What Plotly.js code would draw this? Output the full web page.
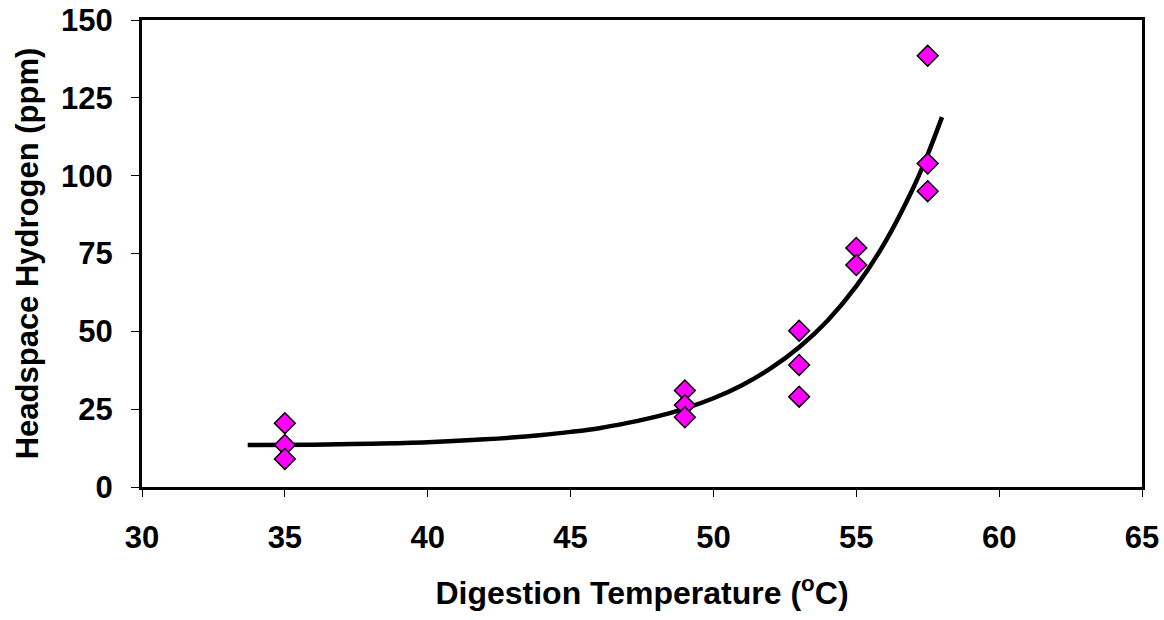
<!DOCTYPE html>
<html>
<head>
<meta charset="utf-8">
<script src="https://cdn.plot.ly/plotly-3.0.1.min.js"></script>
<style>html,body{margin:0;padding:0;background:#fff;}#chart{width:1164px;height:620px;}</style>
</head>
<body>
<div id="chart"></div>
<script>
// Measured data points
const tempX = [35, 35, 35, 49, 49, 49, 53, 53, 53, 55, 55, 57.5, 57.5, 57.5];
const hydrogenY = [20.5, 13.5, 9.0, 31.0, 26.3, 22.4, 50.2, 39.2, 29.0, 76.8, 71.3, 138.5, 103.9, 95.0];

// Trend curve
const curveX = [33.7, 36, 38, 40, 42, 44, 45, 46, 47, 48, 49, 50, 51, 52, 53, 54, 55, 56, 57, 57.5, 58];
const curveY = [13.5, 13.6, 13.9, 14.4, 15.3, 16.7, 17.7, 18.9, 20.6, 22.6, 25.2, 28.5, 32.7, 38.1, 44.9, 53.5, 64.5, 78.5, 96.2, 106.8, 118.8];

const xTicks = [30, 35, 40, 45, 50, 55, 60, 65];
const yTicks = [0, 25, 50, 75, 100, 125, 150];

const font = 'Liberation Sans, Arial, sans-serif';

const traces = [
  {
    x: curveX, y: curveY, mode: 'lines', type: 'scatter',
    line: {color: '#000', width: 4.5, shape: 'spline'},
    hoverinfo: 'skip', showlegend: false
  },
  {
    x: tempX, y: hydrogenY, mode: 'markers', type: 'scatter',
    marker: {symbol: 'diamond', size: 16, color: '#FF00FF', line: {color: '#000', width: 1.5}},
    showlegend: false
  }
];

const layout = {
  width: 1164, height: 620,
  margin: {l: 142, r: 22, t: 20, b: 133},
  paper_bgcolor: '#fff', plot_bgcolor: '#fff',
  font: {family: font, color: '#000'},
  xaxis: {
    range: [30, 65], tickvals: xTicks, ticktext: xTicks.map(String),
    showgrid: false, zeroline: false,
    showline: true, linecolor: '#000', linewidth: 3, mirror: true,
    ticks: 'outside', ticklen: 7, tickwidth: 1, tickcolor: '#000',
    ticklabelstandoff: 14,
    tickfont: {family: font, size: 31, color: '#000', weight: 'bold'},
    title: {text: '<b>Digestion Temperature (<sup>o</sup>C)</b>', standoff: 28,
            font: {family: font, size: 32, color: '#000'}}
  },
  yaxis: {
    range: [0, 150], tickvals: yTicks, ticktext: yTicks.map(String),
    showgrid: false, zeroline: false,
    showline: true, linecolor: '#000', linewidth: 3, mirror: true,
    ticks: 'outside', ticklen: 8, tickwidth: 1, tickcolor: '#000',
    ticklabelstandoff: 12,
    tickfont: {family: font, size: 31, color: '#000', weight: 'bold'},
    title: {text: '<b>Headspace Hydrogen (ppm)</b>', standoff: 14,
            font: {family: font, size: 31, color: '#000'}}
  }
};

Plotly.newPlot('chart', traces, layout, {displayModeBar: false, staticPlot: true});
</script>
</body>
</html>
